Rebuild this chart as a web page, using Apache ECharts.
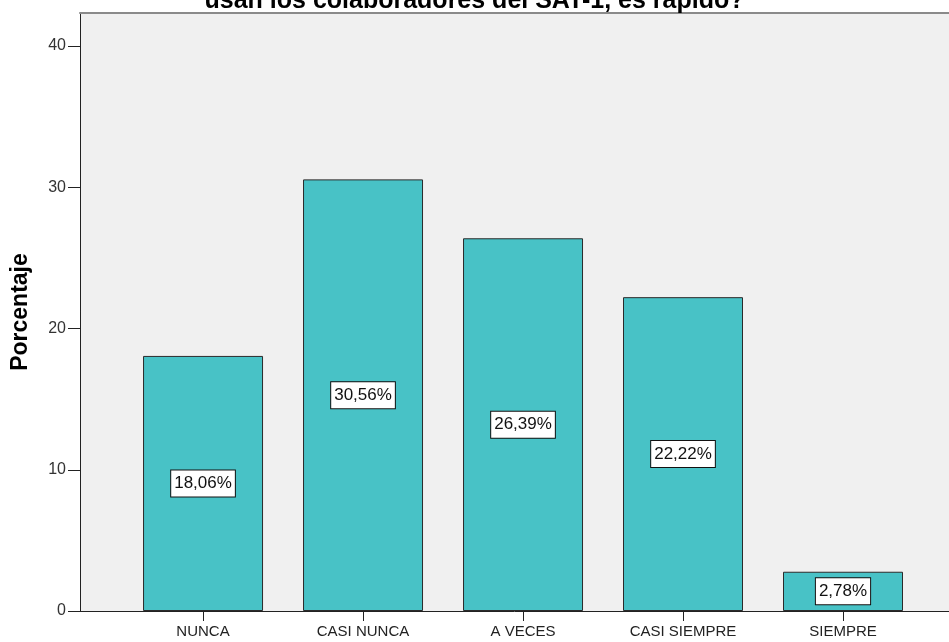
<!DOCTYPE html>
<html>
<head>
<meta charset="utf-8">
<script src="https://cdn.jsdelivr.net/npm/echarts@6/dist/echarts.min.js"></script>
<style>
html,body{margin:0;padding:0;background:#fff;}
#main{width:949px;height:642px;}
</style>
</head>
<body>
<div id="main"></div>
<script>
const titleText = 'usan los colaboradores del SAT-1, es rápido?';
const categories = ['NUNCA', 'CASI NUNCA', 'A VECES', 'CASI SIEMPRE', 'SIEMPRE'];
const percentages = [18.06, 30.56, 26.39, 22.22, 2.78];
const yTicks = [0, 10, 20, 30, 40];
const yAxisName = 'Porcentaje';

const positions = categories.map((c, i) => i);
const barData = percentages.map((v, i) => [positions[i], v]);

const chart = echarts.init(document.getElementById('main'), null, {renderer: 'canvas'});
const font = '"Liberation Sans", Arial, sans-serif';

chart.setOption({
  animation: false,
  backgroundColor: '#ffffff',
  title: {
    text: titleText,
    left: 'center',
    top: -16,
    textStyle: {fontFamily: font, fontSize: 25, fontWeight: 'bold', color: '#000'}
  },
  grid: {
    left: 80, right: 0, top: 13, bottom: 31,
    show: true, backgroundColor: '#F0F0F0', borderWidth: 0
  },
  xAxis: [{
    type: 'value',
    min: -0.769,
    max: 4.6625,
    splitLine: {show: false},
    axisLine: {show: true, onZero: false, lineStyle: {color: '#222', width: 1}},
    axisTick: {show: true, inside: false, length: 10, customValues: positions, lineStyle: {color: '#222'}},
    axisLabel: {
      customValues: positions,
      margin: 13,
      fontFamily: font, fontSize: 15, color: '#222',
      formatter: v => categories[Math.round(v)] || ''
    }
  }, {
    type: 'value',
    position: 'top',
    min: -0.769,
    max: 4.6625,
    splitLine: {show: false},
    axisLine: {show: true, onZero: false, lineStyle: {color: '#8a8a8a', width: 2}},
    axisTick: {show: false},
    axisLabel: {show: false}
  }],
  yAxis: {
    type: 'value',
    position: 'left',
    min: 0,
    max: 42.34,
    name: yAxisName,
    nameLocation: 'middle',
    nameRotate: 90,
    nameGap: 48,
    nameTextStyle: {fontFamily: font, fontSize: 23, fontWeight: 'bold', color: '#000'},
    splitLine: {show: false},
    axisLine: {show: true, onZero: false, lineStyle: {color: '#222', width: 1}},
    axisTick: {show: true, inside: false, length: 12, customValues: yTicks, lineStyle: {color: '#222'}},
    axisLabel: {customValues: yTicks, margin: 14, fontFamily: font, fontSize: 16, color: '#333'}
  },
  series: [{
    type: 'bar',
    xAxisIndex: 0,
    data: barData,
    barWidth: 120,
    itemStyle: {color: '#48C2C6', borderColor: '#2b2b2b', borderWidth: 1},
    label: {
      show: true,
      position: 'inside',
      formatter: p => p.value[1].toFixed(2).replace('.', ',') + '%',
      fontFamily: font, fontSize: 17, color: '#111',
      backgroundColor: '#ffffff',
      borderColor: '#111', borderWidth: 1,
      padding: [5, 3, 4, 3]
    }
  }]
});
</script>
</body>
</html>
